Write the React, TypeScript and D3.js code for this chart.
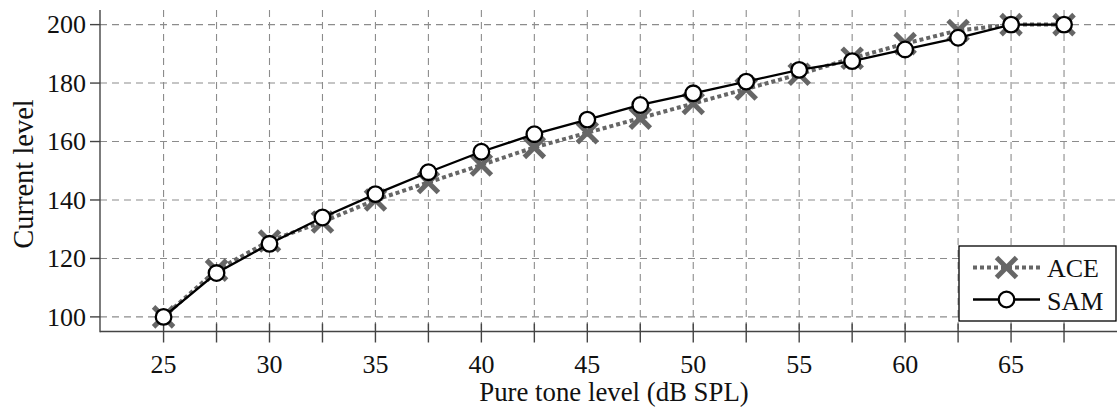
import React from "react";
import * as d3 from "d3";

// Pure tone level (dB SPL) at each measured step
const levels = [25, 27.5, 30, 32.5, 35, 37.5, 40, 42.5, 45, 47.5, 50, 52.5, 55, 57.5, 60, 62.5, 65, 67.5];
// Current level per strategy
const aceValues = [100, 116, 126, 132.5, 140, 146, 152, 158, 163, 168, 173, 178, 183, 188.5, 193.5, 198, 200, 200];
const samValues = [100, 115, 125, 134, 142, 149.5, 156.5, 162.5, 167.5, 172.5, 176.5, 180.5, 184.5, 187.5, 191.5, 195.5, 200, 200];
const xTickLabels = [25, 30, 35, 40, 45, 50, 55, 60, 65];
const yTicks = [100, 120, 140, 160, 180, 200];
const seriesNames = ["ACE", "SAM"];

const W = 1117;
const H = 410;
const FONT = "Liberation Serif, DejaVu Serif, serif";

const x = d3.scaleLinear().domain([22, 70]).range([100, 1117]);
const y = d3.scaleLinear().domain([95, 205]).range([331.5, 10]);

const line = d3
  .line<[number, number]>()
  .x((d) => x(d[0]))
  .y((d) => y(d[1]));

const acePts: [number, number][] = levels.map((l, i) => [l, aceValues[i]]);
const samPts: [number, number][] = levels.map((l, i) => [l, samValues[i]]);

const ACE_COLOR = "#666666";
const txt = { fontFamily: FONT };

function Cross({ cx, cy }: { cx: number; cy: number }) {
  const s = 10;
  return (
    <g stroke={ACE_COLOR} strokeWidth={5} strokeLinecap="butt">
      <line x1={cx - s} y1={cy - s} x2={cx + s} y2={cy + s} />
      <line x1={cx - s} y1={cy + s} x2={cx + s} y2={cy - s} />
    </g>
  );
}

function Circle({ cx, cy }: { cx: number; cy: number }) {
  return <circle cx={cx} cy={cy} r={7.8} fill="#fff" stroke="#000" strokeWidth={2.3} />;
}

export default function App() {
  const [x0, x1] = x.range();
  const [yb, yt] = y.range();
  const legX = 959;
  const legY = 246;
  return (
    <svg width={W} height={H} style={{ position: "absolute", left: 0, top: 0 }}>
      <rect width={W} height={H} fill="#fff" />
      {/* grid */}
      <g stroke="#8c8c8c" strokeWidth={1.1} strokeDasharray="7,5">
        {yTicks.map((t) => (
          <line key={"h" + t} x1={x0} x2={x1} y1={y(t)} y2={y(t)} />
        ))}
        {levels.map((l) => (
          <line key={"v" + l} x1={x(l)} x2={x(l)} y1={yt} y2={yb} />
        ))}
      </g>
      {/* axes */}
      <g stroke="#444" strokeWidth={1.4}>
        <line x1={x0} x2={x0} y1={yt} y2={yb + 0.7} />
        <line x1={x0} x2={x1} y1={yb} y2={yb} />
        {yTicks.map((t) => (
          <line key={"yt" + t} x1={x0 - 10} x2={x0} y1={y(t)} y2={y(t)} />
        ))}
        {levels.map((l) => (
          <line key={"xt" + l} x1={x(l)} x2={x(l)} y1={yb - 8} y2={yb + 11} />
        ))}
      </g>
      {/* tick labels */}
      <g fontSize={26} fill="#111" style={txt}>
        {yTicks.map((t) => (
          <text key={"yl" + t} x={86} y={y(t)} dy="0.34em" textAnchor="end" style={txt}>
            {t}
          </text>
        ))}
        {xTickLabels.map((t) => (
          <text key={"xl" + t} x={x(t)} y={372.5} textAnchor="middle" style={txt}>
            {t}
          </text>
        ))}
      </g>
      {/* axis titles */}
      <text x={614} y={401} fontSize={26.8} textAnchor="middle" fill="#111" style={txt}>
        Pure tone level (dB SPL)
      </text>
      <text transform="translate(33,174) rotate(-90)" fontSize={28.5} textAnchor="middle" fill="#111" style={txt}>
        Current level
      </text>
      {/* ACE series */}
      <path d={line(acePts) || ""} fill="none" stroke={ACE_COLOR} strokeWidth={4} strokeDasharray="4,3" />
      {acePts.map((p, i) => (
        <Cross key={"a" + i} cx={x(p[0])} cy={y(p[1])} />
      ))}
      {/* SAM series */}
      <path d={line(samPts) || ""} fill="none" stroke="#000" strokeWidth={2.3} />
      {samPts.map((p, i) => (
        <Circle key={"s" + i} cx={x(p[0])} cy={y(p[1])} />
      ))}
      {/* legend */}
      <g>
        <rect x={legX} y={legY} width={157} height={75} fill="#fff" stroke="#000" strokeWidth={1.3} />
        <line x1={legX + 14} x2={legX + 81} y1={legY + 21.5} y2={legY + 21.5} stroke={ACE_COLOR} strokeWidth={4} strokeDasharray="4,3" />
        <Cross cx={legX + 47.5} cy={legY + 21.5} />
        <line x1={legX + 14} x2={legX + 81} y1={legY + 53.5} y2={legY + 53.5} stroke="#000" strokeWidth={2.3} />
        <Circle cx={legX + 47.5} cy={legY + 53.5} />
        <text x={legX + 88} y={legY + 30.5} fontSize={26} fill="#111" style={txt}>
          {seriesNames[0]}
        </text>
        <text x={legX + 88} y={legY + 64} fontSize={26} fill="#111" style={txt}>
          {seriesNames[1]}
        </text>
      </g>
    </svg>
  );
}
